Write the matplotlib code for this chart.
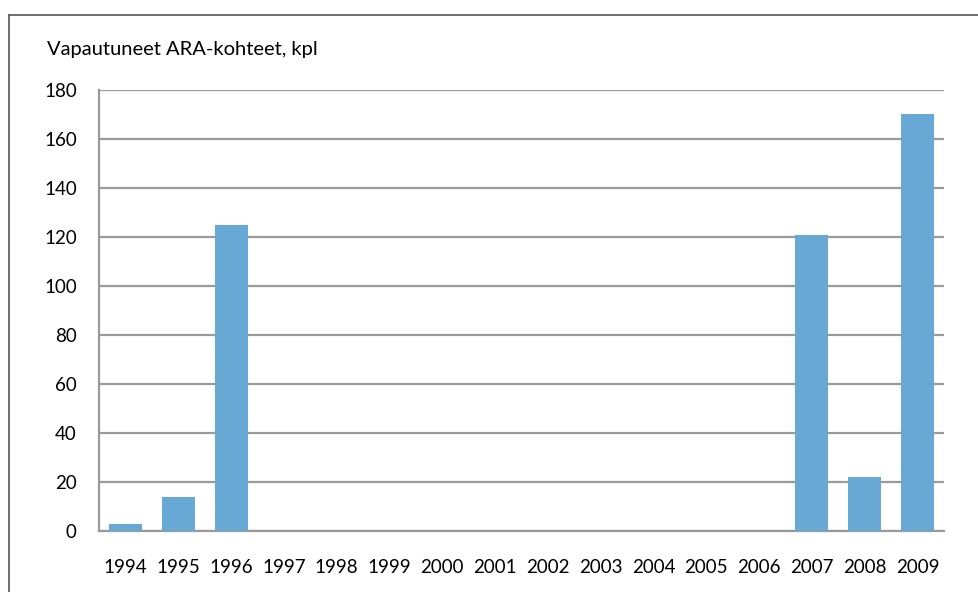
import matplotlib.pyplot as plt
from matplotlib.lines import Line2D

years = ['1994', '1995', '1996', '1997', '1998', '1999', '2000', '2001',
         '2002', '2003', '2004', '2005', '2006', '2007', '2008', '2009']
counts = [3, 14, 125, 0, 0, 0, 0, 0, 0, 0, 0, 0, 0, 121, 22, 170]
y_ticks = [0, 20, 40, 60, 80, 100, 120, 140, 160, 180]

plt.rcParams['font.family'] = ['Lato', 'DejaVu Sans']

fig = plt.figure(figsize=(9.79, 5.92), dpi=100)
ax = fig.add_axes([99 / 979, 1 - 531 / 592, 845 / 979, 441 / 592])

x = range(len(years))
ax.bar(x, counts, width=0.625, color='#67a9d4', zorder=3)

ax.set_xlim(-0.5, len(years) - 0.5)
ax.set_ylim(0, 180)
ax.set_yticks(y_ticks)
ax.set_xticks(list(x))
ax.set_xticklabels(years)
ax.tick_params(axis='both', length=0, labelsize=13.5, colors='black')
ax.tick_params(axis='x', pad=20)
ax.tick_params(axis='y', pad=16)

ax.grid(axis='y', color='#9a9a9a', linewidth=1.6, zorder=0)
for side in ['top', 'right']:
    ax.spines[side].set_visible(False)
for side in ['left', 'bottom']:
    ax.spines[side].set_color('#9a9a9a')
    ax.spines[side].set_linewidth(1.6)

fig.text(47 / 979, 1 - 50 / 592, 'Vapautuneet ARA-kohteet, kpl',
         fontsize=14.5, va='center', ha='left')

# frame lines along the top and left edge of the figure
fig.add_artist(Line2D([9 / 979, 1], [1 - 15 / 592, 1 - 15 / 592],
                      color='#555555', linewidth=1.2, transform=fig.transFigure))
fig.add_artist(Line2D([9 / 979, 9 / 979], [0, 1 - 15 / 592],
                      color='#555555', linewidth=1.2, transform=fig.transFigure))

fig.savefig('out.png', dpi=100)
